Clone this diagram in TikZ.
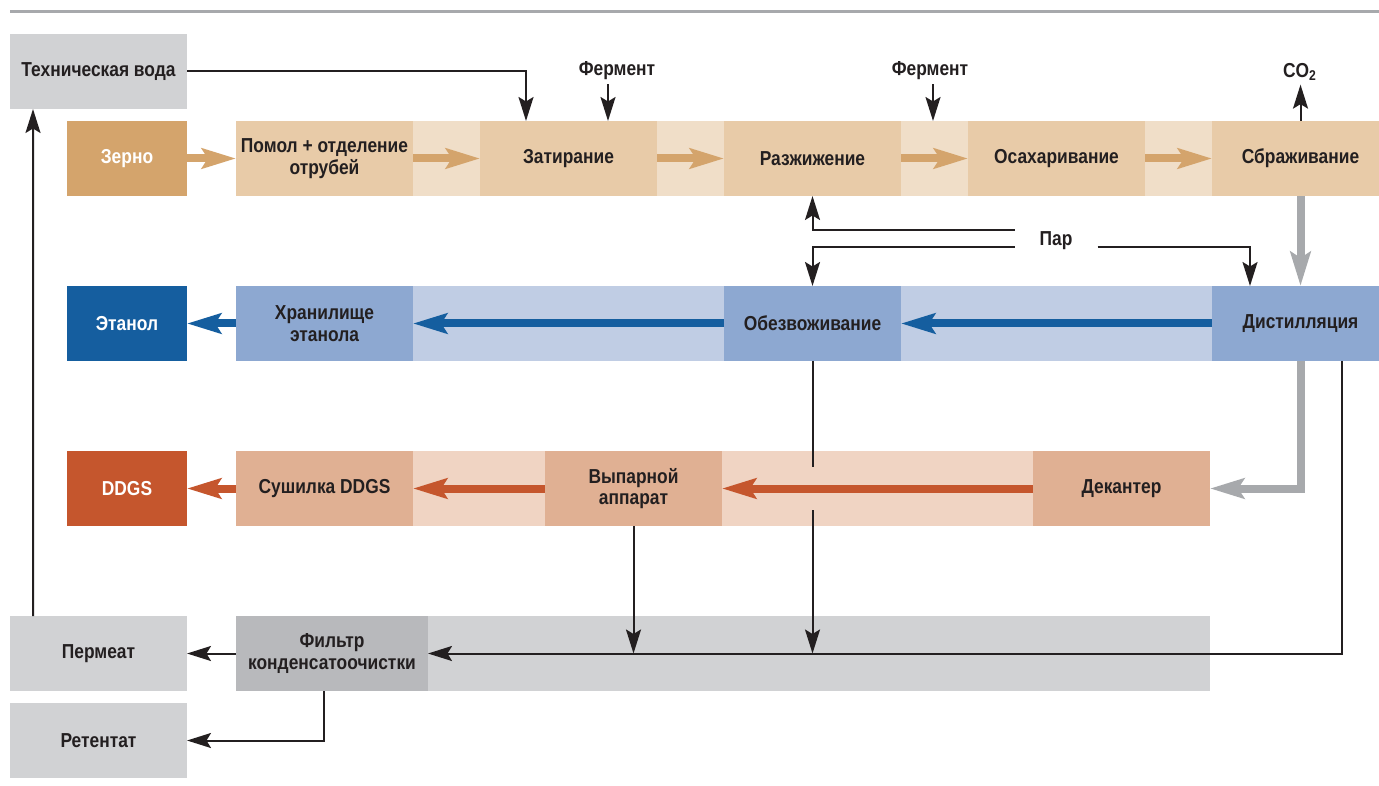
\documentclass[tikz,border=0pt]{standalone}
\usepackage{fontspec}
\setmainfont{Liberation Sans}[FakeStretch=0.86]
\usepackage{xcolor}
\usepackage{tikz}
\usetikzlibrary{arrows.meta, positioning, backgrounds}

\definecolor{ink}{HTML}{231F20}
\definecolor{tandark}{HTML}{D4A46C}
\definecolor{tanmid}{HTML}{E8CBA8}
\definecolor{tanlight}{HTML}{F0DEC8}
\definecolor{bluedark}{HTML}{155E9F}
\definecolor{bluemid}{HTML}{8DA8D1}
\definecolor{bluelight}{HTML}{C0CDE4}
\definecolor{orangedark}{HTML}{C5562D}
\definecolor{orangemid}{HTML}{E0B093}
\definecolor{orangelight}{HTML}{F0D4C3}
\definecolor{graybox}{HTML}{D1D2D4}
\definecolor{graydark}{HTML}{B8B9BC}
\definecolor{grayline}{HTML}{A7A9AC}

\tikzstyle{base} = [rectangle, minimum height=1.5cm, inner sep=0pt, outer sep=0pt, text centered, align=center, text=ink, font=\bfseries\fontsize{11.5}{12.3}\selectfont]
\tikzstyle{source} = [base, minimum width=2.4cm, text=white]
\tikzstyle{stage} = [base, minimum width=3.54cm]
\tikzstyle{note} = [inner sep=0.08cm, outer sep=0pt, text=ink, font=\bfseries\fontsize{11.5}{12.3}\selectfont]
\tikzstyle{arrow} = [line width=0.04cm, draw=ink, -{Stealth[length=0.48cm, width=0.3cm, inset=0.09cm]}]
\tikzstyle{wire} = [line width=0.04cm, draw=ink]
\tikzstyle{fat} = [line width=0.16cm, -{Stealth[length=0.68cm, width=0.4cm, inset=0.12cm]}]

\begin{document}
\begin{tikzpicture}[node distance=1.34cm]
\clip (0,0) rectangle (27.58,15.7);
\draw [line width=0.06cm, grayline] (0.2,15.46) -- (27.58,15.46);

% Nodes
\node (techvoda) [stage, fill=graybox] at (1.97,14.27) {Техническая вода};
\node (zerno) [source, fill=tandark] at (2.54,12.53) {Зерно};
\node (pomol) [stage, fill=tanmid, right=0.98cm of zerno] {Помол + отделение\\отрубей};
\node (zatir) [stage, fill=tanmid, right=of pomol] {Затирание};
\node (razzh) [stage, fill=tanmid, right=of zatir] {Разжижение};
\node (osah) [stage, fill=tanmid, right=of razzh] {Осахаривание};
\node (brozh) [stage, fill=tanmid, right=of osah] {Сбраживание};

\node (etanol) [source, fill=bluedark, below=1.8cm of zerno] {Этанол};
\node (hran) [stage, fill=bluemid, below=1.8cm of pomol] {Хранилище\\этанола};
\node (obezv) [stage, fill=bluemid, below=1.8cm of razzh] {Обезвоживание};
\node (distil) [stage, fill=bluemid, below=1.8cm of brozh] {Дистилляция};

\node (ddgs) [source, fill=orangedark, below=1.8cm of etanol] {DDGS};
\node (sush) [stage, fill=orangemid, below=1.8cm of hran] {Сушилка DDGS};
\node (vypar) [stage, fill=orangemid, right=2.64cm of sush] {Выпарной\\аппарат};
\node (dekant) [stage, fill=orangemid, right=6.22cm of vypar] {Декантер};

\node (filtr) [stage, minimum width=3.84cm, fill=graydark, below=1.8cm of sush.south west, anchor=north west] {Фильтр\\конденсатоочистки};
\node (permeat) [stage, fill=graybox, left=0.98cm of filtr] {Пермеат};
\node (retentat) [stage, fill=graybox, below=0.24cm of permeat] {Ретентат};

% Labels
\node (ferm1) [note] at (12.34,14.28) {Фермент};
\node (ferm2) [note] at (18.6,14.28) {Фермент};
\node (co2) [note] at (26.0,14.26) {CO\textsubscript{2}};
\node (par) [note, inner sep=0pt, minimum width=1.66cm, minimum height=0.5cm] at (21.12,10.88) {Пар};

% Bands
\begin{scope}[on background layer]
\fill [tanlight] (pomol.north west) rectangle (brozh.south east);
\fill [bluelight] (hran.north west) rectangle (distil.south east);
\fill [orangelight] (sush.north west) rectangle (dekant.south east);
\fill [graybox] (filtr.north west) rectangle (dekant.east |- filtr.south);
\end{scope}

% Arrows
\draw [fat, tandark] (zerno) -- (pomol);
\draw [fat, tandark] (pomol) -- (zatir);
\draw [fat, tandark] (zatir) -- (razzh);
\draw [fat, tandark] (razzh) -- (osah);
\draw [fat, tandark] (osah) -- (brozh);

\draw [fat, bluedark] (distil) -- (obezv);
\draw [fat, bluedark] (obezv) -- (hran);
\draw [fat, bluedark] (hran) -- (etanol);

\draw [fat, orangedark] (dekant) -- (vypar);
\draw [fat, orangedark] (vypar) -- (sush);
\draw [fat, orangedark] (sush) -- (ddgs);

\draw [fat, grayline] (brozh) -- (distil);
\draw [fat, grayline] (distil.south) |- (dekant.east);

\draw [arrow] (techvoda.east) -| ([xshift=-0.85cm]zatir.north);
\draw [arrow] ([xshift=-0.18cm]ferm1.south) -- ([xshift=-0.18cm]ferm1.south |- zatir.north);
\draw [arrow] ([xshift=0.06cm]ferm2.south) -- ([xshift=0.06cm]ferm2.south |- razzh.north);
\draw [arrow] (brozh.north) -- (brozh.north |- co2.south);
\draw [arrow] ([yshift=0.22cm]par.west) -| (razzh.south);
\draw [arrow] ([yshift=-0.12cm]par.west) -| (obezv.north);
\draw [arrow] ([yshift=-0.12cm]par.east) -| ([xshift=-1.01cm]distil.north);

\draw [wire] (obezv.south) -- ([yshift=0.43cm]obezv.south |- vypar.east);
\draw [arrow] ([yshift=-0.43cm]obezv.south |- vypar.east) -- (obezv.south |- filtr.east);
\draw [arrow] (vypar.south) -- (vypar.south |- filtr.east);
\draw [arrow] ([xshift=0.83cm]distil.south) |- (filtr.east);
\draw [arrow] (filtr) -- (permeat);
\draw [arrow] ([xshift=-0.16cm]filtr.south) |- (retentat.east);
\draw [arrow] ([xshift=-1.31cm]permeat.north) -- ([xshift=-1.31cm]techvoda.south);

\end{tikzpicture}
\end{document}
